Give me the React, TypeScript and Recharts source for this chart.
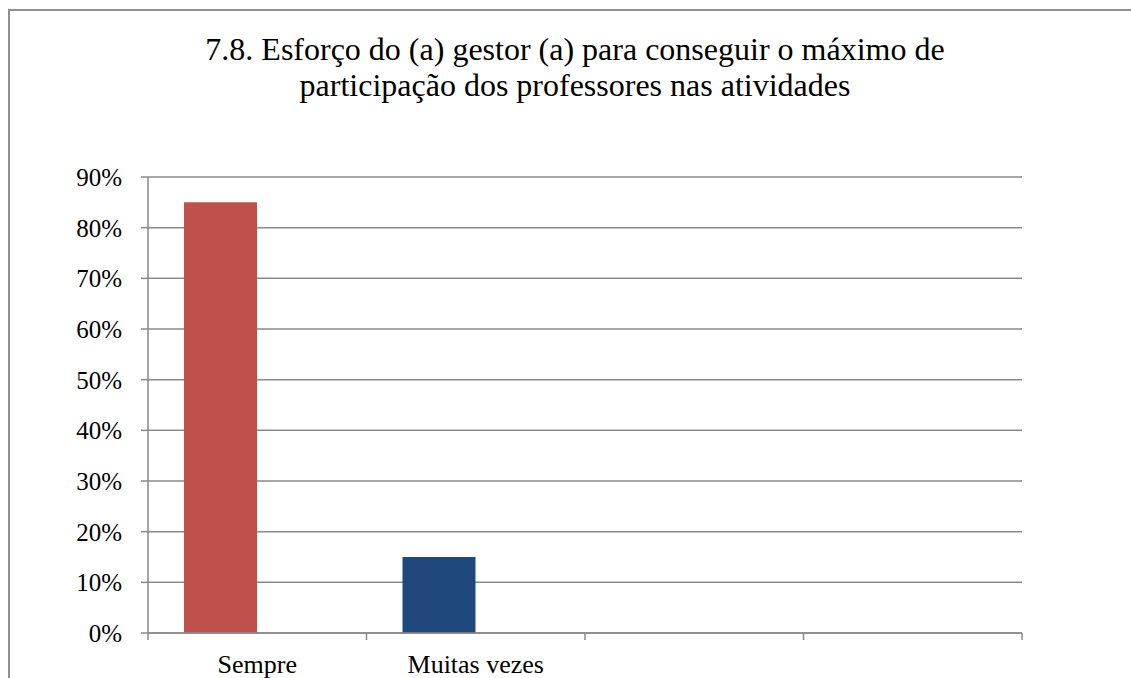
import React from 'react';
import { BarChart, Bar, XAxis, YAxis, CartesianGrid, Cell } from 'recharts';

const categories = ['Sempre', 'Muitas vezes', '', ''];
const seriesMain: (number | null)[] = [0.85, 0.15, null, null];
const seriesEmpty: (number | null)[] = [null, null, null, null];
const barColors = ['#C0504D', '#1F497D', '#C0504D', '#1F497D'];
const yTicks = [0, 0.1, 0.2, 0.3, 0.4, 0.5, 0.6, 0.7, 0.8, 0.9];
const boundaryTicks = [0, 1, 2, 3, 4];
const titleLines = [
  '7.8. Esforço do (a) gestor (a) para conseguir o máximo de',
  'participação dos professores nas atividades',
];

const data = categories.map((c, i) => ({
  cat: c,
  idx: i + 0.5,
  v: seriesMain[i],
  e: seriesEmpty[i],
}));

const FONT = 'Liberation Serif';
const GRAY = '#8a8a8a';

export default function App() {
  return (
    <div
      style={{
        position: 'absolute',
        left: 0,
        top: 0,
        width: 1131,
        height: 678,
        overflow: 'hidden',
        background: '#fff',
        fontFamily: FONT,
      }}
    >
      <div
        style={{
          position: 'absolute',
          left: 8,
          top: 9,
          width: 1300,
          height: 900,
          border: '2px solid #8f8f8f',
          boxSizing: 'border-box',
        }}
      />
      <div
        style={{
          position: 'absolute',
          left: 175,
          top: 31,
          width: 800,
          textAlign: 'center',
          fontSize: 32,
          lineHeight: '36px',
          color: '#000',
          fontFamily: FONT,
        }}
      >
        {titleLines.map((t, i) => (
          <div key={i}>{t}</div>
        ))}
      </div>
      <div style={{ position: 'absolute', left: 0, top: 0, fontFamily: FONT }}>
        <BarChart
          width={1131}
          height={678}
          data={data}
          margin={{ top: 177, right: 109, left: 0, bottom: 0 }}
          barGap={0}
          style={{ fontFamily: FONT }}
        >
          <CartesianGrid
            xAxisId="cat"
            vertical={false}
            stroke={GRAY}
            strokeWidth={1.5}
          />
          <XAxis
            xAxisId="bound"
            type="number"
            dataKey="idx"
            domain={[0, 4]}
            ticks={boundaryTicks}
            allowDataOverflow
            tickFormatter={() => ''}
            height={8}
            tickSize={7}
            axisLine={{ stroke: GRAY, strokeWidth: 1.5 }}
            tickLine={{ stroke: GRAY, strokeWidth: 1.5 }}
          />
          <XAxis
            xAxisId="cat"
            dataKey="cat"
            interval={0}
            axisLine={false}
            tickLine={false}
            height={37}
            tickSize={4}
            tickMargin={10}
            tick={{ fontSize: 26, fill: '#000', fontFamily: FONT }}
          />
          <YAxis
            width={148}
            domain={[0, 0.9]}
            ticks={yTicks}
            tickFormatter={(v: number) => `${Math.round(v * 100)}%`}
            tickSize={7}
            tickMargin={19}
            axisLine={{ stroke: GRAY, strokeWidth: 1.5 }}
            tickLine={{ stroke: GRAY, strokeWidth: 1.5 }}
            tick={{ fontSize: 25, fill: '#000', fontFamily: FONT }}
          />
          <Bar dataKey="v" xAxisId="cat" barSize={73} isAnimationActive={false}>
            {data.map((d, i) => (
              <Cell key={i} fill={barColors[i]} />
            ))}
          </Bar>
          <Bar dataKey="e" xAxisId="cat" barSize={73} fill="#1F497D" isAnimationActive={false} />
        </BarChart>
      </div>
    </div>
  );
}
